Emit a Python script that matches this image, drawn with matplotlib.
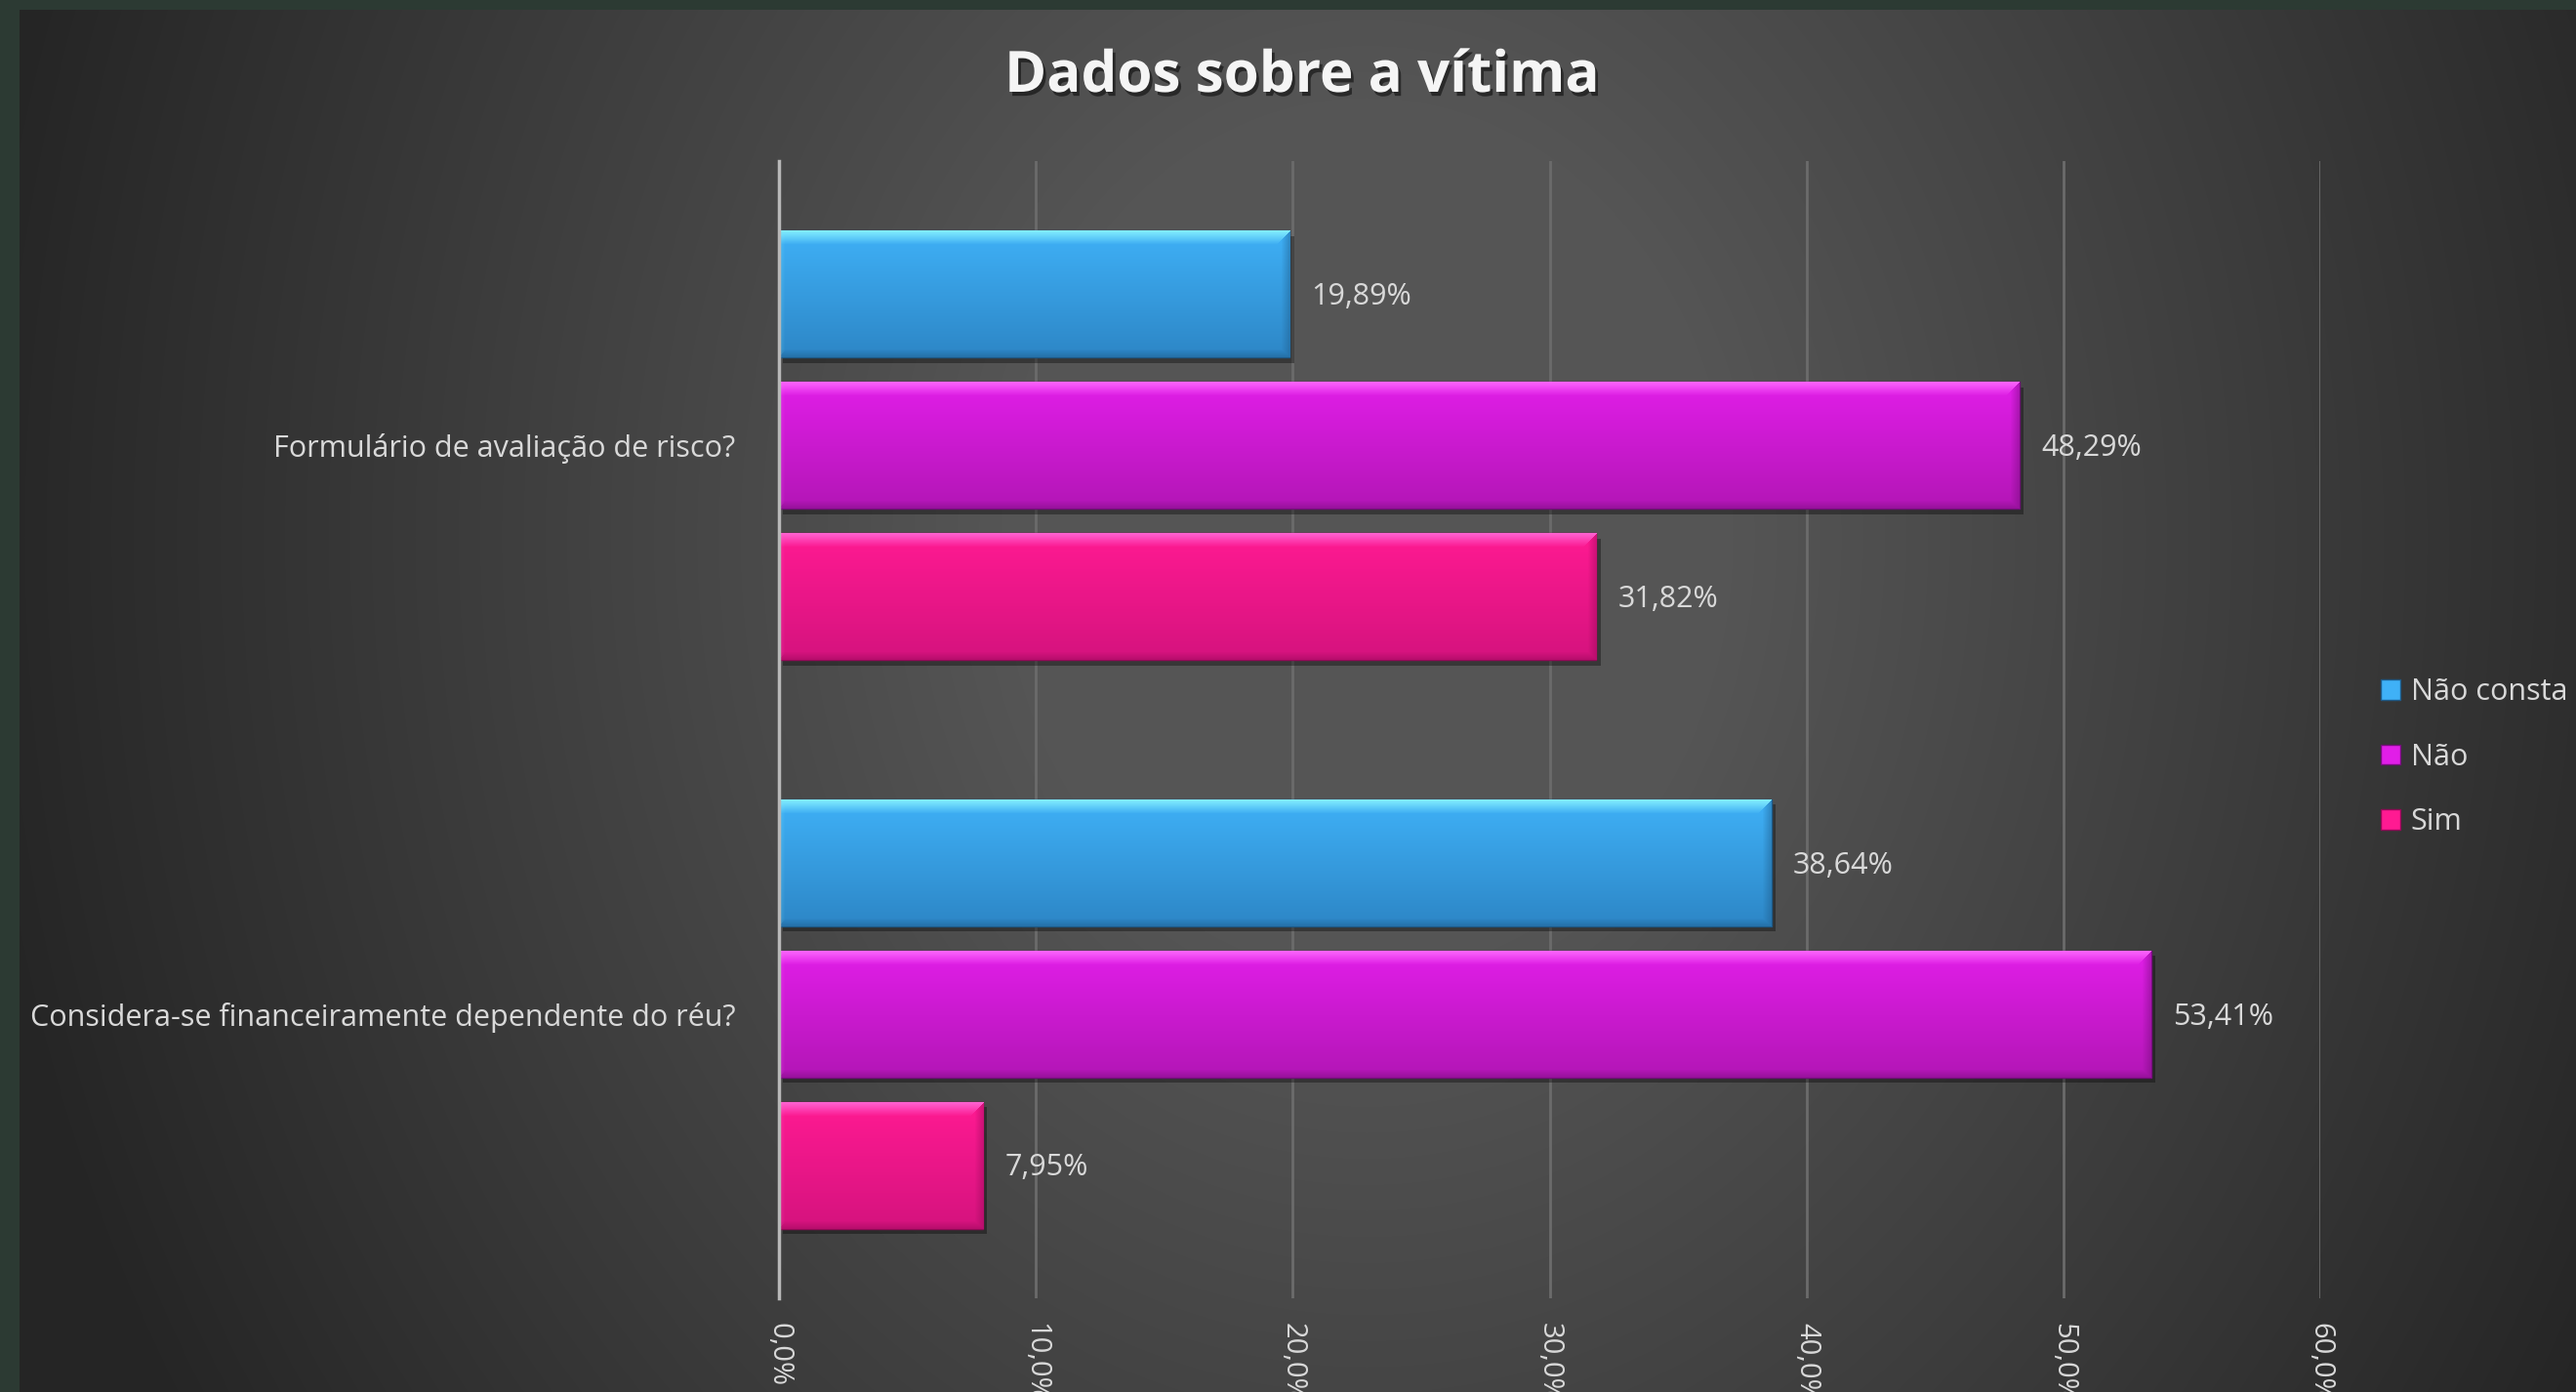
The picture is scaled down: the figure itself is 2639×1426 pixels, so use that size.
import numpy as np
import matplotlib
matplotlib.use("Agg")
import matplotlib.pyplot as plt
import matplotlib.patheffects as pe
from matplotlib.colors import to_rgb
from matplotlib.patches import Patch

plt.rcParams["font.family"] = ["Open Sans", "DejaVu Sans"]

title = "Dados sobre a vítima"
categories = ["Formulário de avaliação de risco?",
              "Considera-se financeiramente dependente do réu?"]
series_names = ["Não consta", "Não", "Sim"]
nao_consta = [19.89, 38.64]
nao = [48.29, 53.41]
sim = [31.82, 7.95]
x_ticks = [0, 10, 20, 30, 40, 50, 60]

styles = [
    dict(hi="#8af4ff", top="#3fb1f7", bottom="#2d86c6", dark="#1d5a88"),
    dict(hi="#ff6cff", top="#e11ee8", bottom="#b316b6", dark="#750d7c"),
    dict(hi="#ff6ad8", top="#ff1a92", bottom="#d5137e", dark="#930857"),
]
txt = "#d9d9d9"

W, H = 2639, 1426
fig = plt.figure(figsize=(W / 100, H / 100), dpi=100)

# background: soft radial gradient with the green frame on the left/top
yy, xx = np.mgrid[0:H, 0:W]
r = np.sqrt(((xx - 1400) / 1250.0) ** 2 + ((yy - 550) / 1500.0) ** 2)
g = (85 - 45 * np.clip(r - 0.3, 0, None) / 0.8)
g = np.clip(g, 37, 85) / 255.0
bg = np.dstack([g, g, g])
bg[:, :20] = to_rgb("#2c3a33")
bg[:10, :] = to_rgb("#2c3a33")
fig.figimage(bg, 0, 0, origin="upper", zorder=-10)

ax = fig.add_axes([798 / W, 1 - 1330 / H, (2377 - 798) / W, (1330 - 165) / H])
ax.set_facecolor("none")

centers = np.array([1.0, 0.0])
step = 0.266
bar_h = 0.223

ax.set_xlim(0, 60)
ax.set_ylim(-0.5, 1.5)


def bevel(w_px, h_px, st):
    w_px, h_px = max(int(w_px), 2), max(int(h_px), 2)
    top = np.array(to_rgb(st["top"]))
    bot = np.array(to_rgb(st["bottom"]))
    hi = np.array(to_rgb(st["hi"]))
    dk = np.array(to_rgb(st["dark"]))
    t = np.linspace(0, 1, h_px)[:, None, None]
    img = np.repeat(top + (bot - top) * t, w_px, axis=1)
    rows = np.arange(h_px)[:, None]
    cols = np.arange(w_px)[None, :]
    d_top, d_bot = rows, h_px - 1 - rows
    d_left, d_right = cols, w_px - 1 - cols
    a = np.clip(1 - d_right / 9.0, 0, 1) * 0.45 * (d_right < d_top) * (d_right <= d_bot)
    img = img * (1 - a[..., None]) + dk * a[..., None]
    a = np.clip(1 - d_bot / 8.0, 0, 1) * 0.45 * (d_bot < d_right)
    img = img * (1 - a[..., None]) + dk * a[..., None]
    a = np.clip(1 - d_top / 14.0, 0, 1) * 0.9 * (d_top <= d_right)
    img = img * (1 - a[..., None]) + hi * a[..., None]
    a = np.clip(1 - d_left / 6.0, 0, 1) * 0.2 * (d_left < d_top) * (d_left < d_bot)
    img = img * (1 - a[..., None]) + hi * a[..., None]
    return np.clip(img, 0, 1)


for i, (vals, st) in enumerate(zip([nao_consta, nao, sim], styles)):
    ys = centers + step * (1 - i)
    bars = ax.barh(ys, vals, height=bar_h, color=st["top"], edgecolor=st["dark"],
                   linewidth=1, zorder=3)
    for p in bars.patches:
        p.set_path_effects([pe.SimplePatchShadow(offset=(3, -4), shadow_rgbFace="black",
                                                 alpha=0.35), pe.Normal()])
        x0, y0, w, h = p.get_x(), p.get_y(), p.get_width(), p.get_height()
        (px0, py0), (px1, py1) = ax.transData.transform([(x0, y0), (x0 + w, y0 + h)])
        ax.imshow(bevel(px1 - px0, py1 - py0, st), extent=(x0, x0 + w, y0, y0 + h),
                  origin="upper", aspect="auto", interpolation="nearest", zorder=4)
    for y, v in zip(ys, vals):
        ax.annotate(f"{v:.2f}%".replace(".", ","), (v, y), xytext=(16, -2),
                    textcoords="offset points", ha="left", va="center",
                    color=txt, fontsize=22, zorder=5)

ax.set_xlim(0, 60)
ax.set_ylim(-0.5, 1.5)

ax.set_yticks(centers, categories)
ax.set_xticks(x_ticks, [f"{v:.1f}%".replace(".", ",") for v in x_ticks], rotation=-90)
ax.tick_params(axis="y", length=0, pad=32, labelcolor=txt, labelsize=22)
ax.tick_params(axis="x", length=0, pad=18, labelcolor=txt, labelsize=21)

ax.grid(axis="x", color="#6b6b6b", linewidth=2, zorder=1)
ax.set_axisbelow(True)
for s in ["top", "right", "bottom"]:
    ax.spines[s].set_visible(False)
ax.spines["left"].set_color("#b8b8b8")
ax.spines["left"].set_linewidth(2.5)
ax.spines["left"].set_zorder(6)

fig.text(1334 / W, 1 - 79 / H, title, ha="center", va="center", fontsize=42,
         fontweight="bold", color="#f5f5f5",
         path_effects=[pe.SimplePatchShadow(offset=(2, -3), shadow_rgbFace="black",
                                            alpha=0.5), pe.Normal()])

handles = [Patch(facecolor=st["top"], edgecolor=st["dark"]) for st in styles]
fig.legend(handles, series_names, loc="upper left", bbox_to_anchor=(2439 / W, 1 - 694 / H),
           frameon=False, fontsize=22, labelcolor=txt, handlelength=0.66,
           handleheight=0.66, handletextpad=0.35, labelspacing=1.2,
           borderpad=0, borderaxespad=0)

fig.savefig("out.png", dpi=100)
